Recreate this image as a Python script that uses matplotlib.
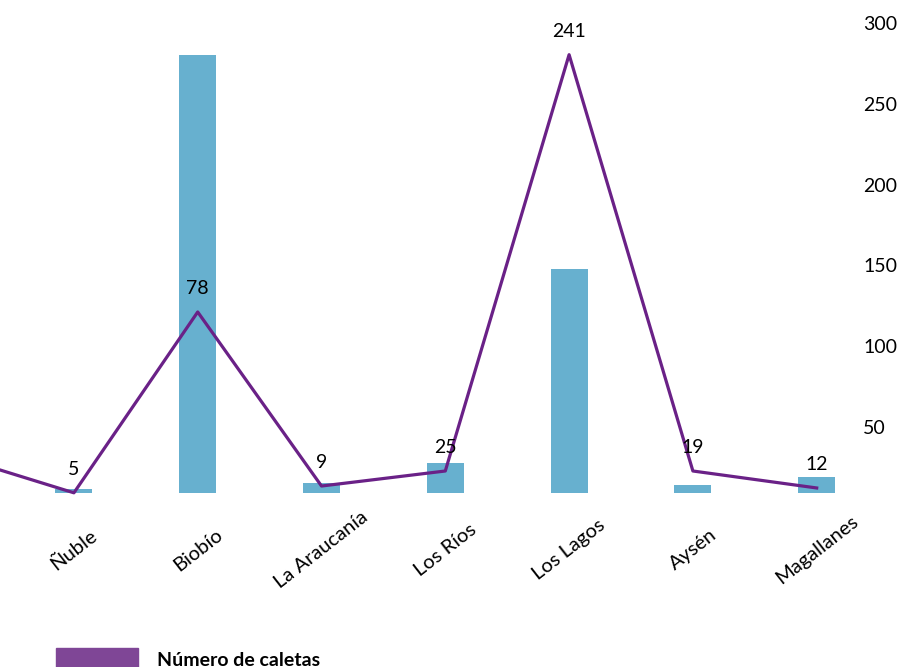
import numpy as np
import matplotlib.pyplot as plt
from matplotlib.patches import Patch

plt.rcParams['font.family'] = ['Lato', 'DejaVu Sans']

# Regiones (Maule queda cortada en el borde izquierdo)
regiones = ['Maule', 'Ñuble', 'Biobío', 'La Araucanía', 'Los Ríos',
            'Los Lagos', 'Aysén', 'Magallanes']

# Barras (serie sin leyenda visible)
barras = [np.nan, 2.7, 271, 6.2, 18.7, 138.6, 5.1, 10.0]

# Línea "Número de caletas", leída contra el eje derecho
caletas = [33, 9.3, 121.2, 13.5, 22.8, 280.4, 22.8, 12.3]
etiquetas = ['', '5', '78', '9', '25', '241', '19', '12']

ticks_der = [50, 100, 150, 200, 250, 300]

color_barra = '#67b0cf'
color_linea = '#6a2187'
color_leyenda = '#7f4696'


def graficar():
    """
    Dibuja barras y línea con eje derecho.
    """
    fig = plt.figure(figsize=(9.03, 6.67), dpi=100)
    ax = fig.add_axes([0, 0.2609, 0.9413, 0.7046])
    x = np.arange(len(regiones))

    ax.bar(x, barras, width=0.30, color=color_barra)
    ax.set_yticks([])
    ax.set_xticks(x)
    ax.set_xticklabels(regiones, rotation=38, ha='center', va='center',
                       fontsize=14.5)
    # los límites van después de set_xticks para que no se amplíen
    ax.set_ylim(0, 290.8)
    ax.set_xlim(0.403, 7.269)
    ax.tick_params(axis='x', length=0, pad=41)
    for s in ax.spines.values():
        s.set_visible(False)

    ax2 = ax.twinx()
    ax2.plot(x, caletas, color=color_linea, lw=2.3, clip_on=False)
    for xi, yi, t in zip(x, caletas, etiquetas):
        ax2.annotate(t, (xi, yi), xytext=(0, 17), textcoords='offset points',
                     ha='center', va='center', fontsize=14)
    ax2.set_yticks(ticks_der)
    ax2.set_ylim(9.2, 300)
    ax2.tick_params(axis='y', length=0, pad=9.4, labelsize=14)
    for s in ax2.spines.values():
        s.set_visible(False)
    ax.set_xlim(0.403, 7.269)

    fig.legend(handles=[Patch(color=color_leyenda, label='Número de caletas')],
               loc='center left', bbox_to_anchor=(56 / 903, 1 - 659 / 667),
               frameon=False, borderpad=0, borderaxespad=0,
               handlelength=4.2, handleheight=1.3, handletextpad=1.0,
               prop={'size': 14, 'weight': 'bold'})

    fig.savefig('out.png', dpi=100)


graficar()
